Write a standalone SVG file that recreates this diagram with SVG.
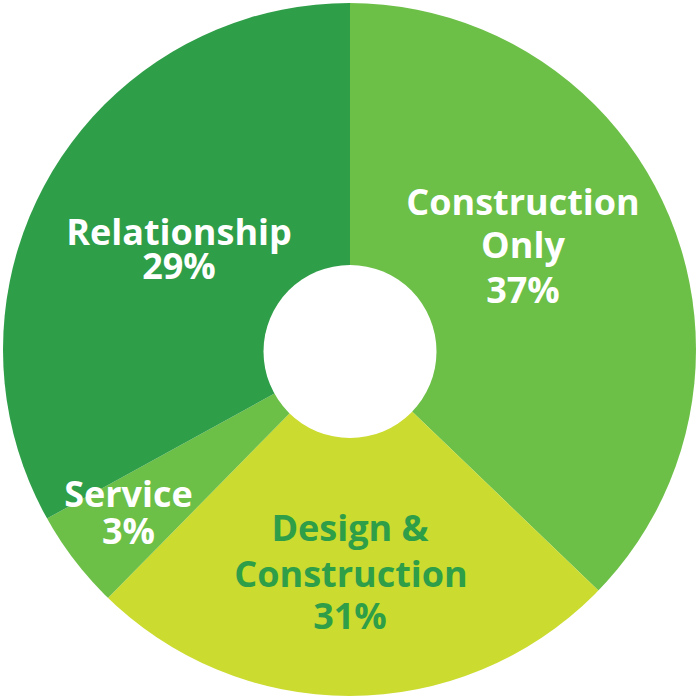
<svg xmlns="http://www.w3.org/2000/svg" width="697" height="697" viewBox="0 0 697 697">
  <style>
    .lbl { font-family: "Open Sans", "Liberation Sans", sans-serif; font-weight: 700; font-size: 36px; text-anchor: middle; }
    .w { fill: #ffffff; }
    .g { fill: #2e9e48; }
  </style>
  <defs>
    <clipPath id="pie">
      <circle cx="349.5" cy="349.5" r="346.5"/>
    </clipPath>
  </defs>
  <rect width="697" height="697" fill="#ffffff"/>
  <g id="slices" clip-path="url(#pie)">
    <g id="construction-only">
      <polygon points="350,352 350,-10 720,-10 725,712" fill="#6cbf47"/>
    </g>
    <g id="design-construction">
      <polygon points="350,352 725,712 -13,721" fill="#cbdb2f"/>
    </g>
    <g id="service">
      <polygon points="350,352 -13,721 -103,601" fill="#6cbf47"/>
    </g>
    <g id="relationship">
      <polygon points="350,352 -103,601 -10,-10 350,-10" fill="#2e9e48"/>
    </g>
  </g>
  <circle id="hole" cx="350" cy="351.5" r="86.5" fill="#ffffff"/>
  <g id="labels">
    <text class="lbl w" x="523" y="215">Construction</text>
    <text class="lbl w" x="523" y="258">Only</text>
    <text class="lbl w" x="523" y="303">37%</text>
    <text class="lbl w" x="179" y="245">Relationship</text>
    <text class="lbl w" x="179" y="279">29%</text>
    <text class="lbl w" x="128.5" y="507">Service</text>
    <text class="lbl w" x="128.5" y="544">3%</text>
    <text class="lbl g" x="350" y="541">Design &amp;</text>
    <text class="lbl g" x="351" y="587">Construction</text>
    <text class="lbl g" x="350" y="629">31%</text>
  </g>
</svg>
